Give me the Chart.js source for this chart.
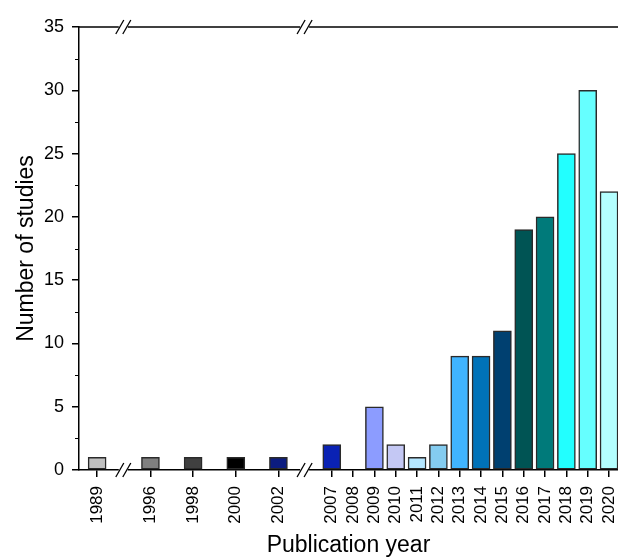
<!DOCTYPE html>
<html lang="en">
<head>
  <meta charset="UTF-8">
  <title>Publication year</title>
  <script src="https://cdn.jsdelivr.net/npm/chart.js"></script>
  <style>
    body { margin: 0; background: #fff; }
    canvas { display: block; }
  </style>
</head>
<body>
  <canvas id="yearChart" width="618" height="559"></canvas>

  <script>
    const years = ['1989', '1996', '1998', '2000', '2002', '2007', '2008', '2009', '2010',
      '2011', '2012', '2013', '2014', '2015', '2016', '2017', '2018', '2019', '2020'];
    const studies = [1, 1, 1, 1, 1, 2, 0, 5, 2, 1, 2, 9, 9, 11, 19, 20, 25, 30, 22];
    const barColors = ['#c0c0c0', '#808080', '#404040', '#000000', '#0c1c80', '#0a22b4', '#0a22b4',
      '#8c9cff', '#c4c8f4', '#b4e6ff', '#84ccf0', '#40b4ff', '#0072b8', '#004070',
      '#005454', '#007a7a', '#22ffff', '#66ffff', '#b4ffff'];
    const yTicks = [0, 5, 10, 15, 20, 25, 30, 35];

    // broken axis: each year sits in its own slot, gaps get an extra half slot
    const slots = [0, 2.5, 4.5, 6.5, 8.5, 11, 12, 13, 14, 15, 16, 17, 18, 19, 20, 21, 22, 23, 24];
    const breaks = [1.25, 9.75];

    const frame = {
      id: 'frame',
      afterDraw(chart) {
        const ctx = chart.ctx;
        const area = chart.chartArea;
        const x = chart.scales.x;
        const y = chart.scales.y;
        ctx.save();
        ctx.strokeStyle = '#000';
        ctx.lineWidth = 1.5;
        // top border
        ctx.beginPath();
        ctx.moveTo(area.left, area.top);
        ctx.lineTo(area.right, area.top);
        ctx.stroke();
        // minor ticks on y
        ctx.lineWidth = 1;
        for (let v = 2.5; v < 35; v += 5) {
          const py = Math.round(y.getPixelForValue(v)) + 0.5;
          ctx.beginPath();
          ctx.moveTo(area.left - 4, py);
          ctx.lineTo(area.left, py);
          ctx.stroke();
        }
        // break marks on top and bottom axis
        breaks.forEach(b => {
          const px = x.getPixelForValue(b);
          [area.top, area.bottom].forEach(py => {
            ctx.fillStyle = '#fff';
            ctx.fillRect(px - 5, py - 2, 9, 4);
            ctx.strokeStyle = '#000';
            ctx.lineWidth = 1.3;
            [-4, 3].forEach(off => {
              ctx.beginPath();
              ctx.moveTo(px + off - 4, py + 7);
              ctx.lineTo(px + off + 4, py - 7);
              ctx.stroke();
            });
          });
        });
        ctx.restore();
      }
    };

    Chart.defaults.font.family = 'Arial, "Liberation Sans", sans-serif';
    Chart.defaults.color = '#000';

    new Chart(document.getElementById('yearChart').getContext('2d'), {
      type: 'bar',
      data: {
        datasets: [{
          label: 'Number of studies',
          data: years.map((yr, i) => ({ x: slots[i], y: studies[i] })),
          backgroundColor: barColors,
          borderColor: '#2a2a2a',
          borderWidth: 1.5,
          borderSkipped: false,
          barThickness: 18
        }]
      },
      options: {
        responsive: false,
        animation: false,
        layout: { padding: { top: 27, right: 0, left: 0, bottom: 0 } },
        plugins: {
          legend: { display: false },
          tooltip: { enabled: false }
        },
        scales: {
          x: {
            type: 'linear',
            offset: false,
            min: -0.85,
            max: 24.42,
            afterBuildTicks: scale => {
              scale.ticks = slots.map(v => ({ value: v }));
            },
            afterFit: scale => {
              scale.height = 89;
              scale.paddingRight = 0;
              scale.paddingLeft = 0;
            },
            ticks: {
              autoSkip: false,
              minRotation: 90,
              maxRotation: 90,
              padding: 9,
              font: { size: 17 },
              callback: (value, index) => years[index]
            },
            grid: { offset: false, drawOnChartArea: false, drawTicks: true, tickLength: 7, color: '#000', lineWidth: 1.5 },
            border: { display: true, color: '#000', width: 1.5 },
            title: { display: true, text: 'Publication year', font: { size: 23 }, padding: { top: 0, bottom: 0 } }
          },
          y: {
            min: 0,
            max: 35,
            afterBuildTicks: scale => {
              scale.ticks = yTicks.map(v => ({ value: v }));
            },
            afterFit: scale => { scale.width = 79; },
            ticks: { font: { size: 18 }, padding: 8 },
            grid: { drawOnChartArea: false, drawTicks: true, tickLength: 7, color: '#000', lineWidth: 1.5 },
            border: { display: true, color: '#000', width: 1.5 },
            title: { display: true, text: 'Number of studies', font: { size: 23 }, padding: { top: 13, bottom: 0 } }
          }
        }
      },
      plugins: [frame]
    });
  </script>
</body>
</html>
